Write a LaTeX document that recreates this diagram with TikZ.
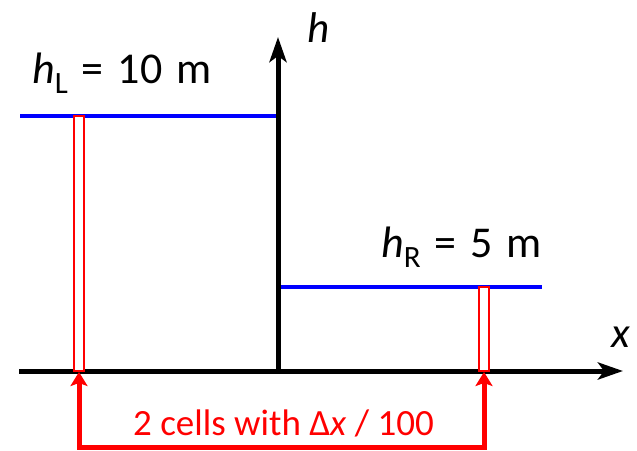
\documentclass[tikz,border=0pt]{standalone}
\usepackage{fontspec}
\setmainfont{Carlito}
\usetikzlibrary{arrows.meta}
\newcommand\mywidesp{\spaceskip=14pt\relax}
\begin{document}
\begin{tikzpicture}[x=1pt,y=-1pt,
  axis/.style={line width=5pt,-{Stealth[length=25pt,width=17pt,inset=6pt]}},
  level/.style={line width=4pt,blue},
  cell/.style={draw=red,line width=2pt,fill=white,rectangle,inner sep=0pt,minimum width=10pt},
  bracket/.style={red,line width=5pt,{Stealth[length=14pt,width=17pt,inset=3pt]}-{Stealth[length=14pt,width=17pt,inset=3pt]}},
  lab/.style={inner sep=0pt,anchor=base west,font=\fontsize{44}{48}\selectfont},
  celllab/.style={inner sep=0pt,anchor=base,text=red,font=\fontsize{37}{40}\selectfont},
  axlab/.style={inner sep=0pt,anchor=base west,font=\fontsize{43}{46}\selectfont\itshape}]
\useasboundingbox (0,0) rectangle (637,450);
% coordinates
\coordinate (O) at (278,371);
\coordinate (xs) at (19,371);
\coordinate (xe) at (623,371);
\coordinate (ye) at (278,37);
\coordinate (lL) at (20,116);
\coordinate (lLe) at (278,116);
\coordinate (rL) at (278,287);
\coordinate (rLe) at (542,287);
\coordinate (bot) at (282,447);
% levels
\draw[level] (lL) -- (lLe);
\draw[level] (rL) -- (rLe);
% axes
\draw[axis] (xs) -- (xe);
\draw[axis] (O) -- (ye);
% cells
\node[cell,minimum height=255pt] (cellL) at (79,243.5) {};
\node[cell,minimum height=84pt] (cellR) at (484,329) {};
% bracket arrow
\draw[bracket] (cellL.south) |- (bot) -| (cellR.south);
% labels
\node[axlab] (hax) at (307,42) {h};
\node[axlab] (xax) at (611,347) {x};
\node[lab] (hLlab) at (32,83) {\mywidesp\textit{h}\raisebox{-10pt}{\fontsize{31}{32}\selectfont L} = 10 m};
\node[lab] (hRlab) at (381,257) {\mywidesp\textit{h}\raisebox{-10pt}{\fontsize{31}{32}\selectfont R} = 5 m};
\node[celllab] (celltext) at (283.5,435) {2 cells with Δ\textit{x} / 100};
\end{tikzpicture}
\end{document}
